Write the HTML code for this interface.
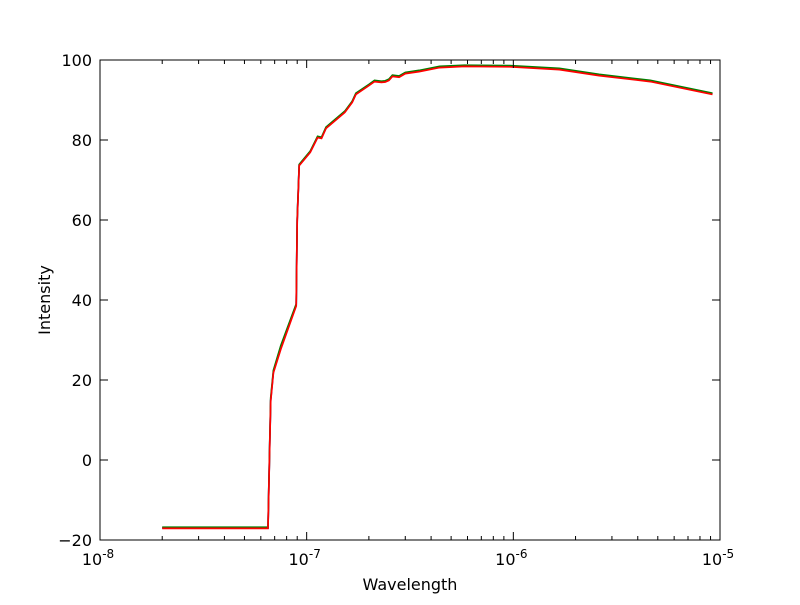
<!DOCTYPE html>
<html><head><meta charset="utf-8"><style>
body{margin:0;background:#fff}
svg text{font-family:"DejaVu Sans","Liberation Sans",sans-serif;fill:#000}
</style></head><body>
<svg id="chart" width="800" height="600">
<rect x="0" y="0" width="800" height="600" fill="#fff"/>
<g id="plot"></g>
<g id="axes"></g>
</svg>
<script>
const wavelengths=[2e-8,6.5e-8,6.6e-8,6.7e-8,6.9e-8,7.5e-8,8.9e-8,9.0e-8,9.2e-8,1.04e-7,1.13e-7,1.18e-7,1.24e-7,1.53e-7,1.66e-7,1.73e-7,2.0e-7,2.13e-7,2.3e-7,2.4e-7,2.5e-7,2.6e-7,2.8e-7,3.0e-7,3.5e-7,4.4e-7,5.8e-7,9.6e-7,1.67e-6,2.6e-6,4.6e-6,9.2e-6];
const blueValues=[-17,-17,0,15,22,28,38.7,60,73.7,77,80.7,80.5,83,87,89.5,91.5,93.7,94.7,94.5,94.6,95,96,95.8,96.7,97.2,98.2,98.5,98.4,97.7,96.2,94.7,91.5];
const greenValues=[-16.8,-16.8,0.3,15.5,22.4,28.6,39,60.3,73.9,77.2,80.9,80.7,83.2,87.2,89.7,91.7,93.9,94.9,94.7,94.8,95.2,96.2,96,96.9,97.4,98.4,98.7,98.6,97.9,96.4,94.9,91.7];
const redValues=[-17.1,-17.1,-0.3,14.7,21.8,27.7,38.5,59.7,73.6,76.9,80.6,80.4,82.9,86.9,89.4,91.4,93.6,94.6,94.4,94.5,94.9,95.9,95.7,96.6,97.1,98.1,98.4,98.3,97.6,96.1,94.6,91.4];
const yTicks=[-20,0,20,40,60,80,100];
const xDecades=[-8,-7,-6,-5];
const L=100,R=720,T=60,B=540;
const xs=w=>L+(Math.log10(w)+8)/3*(R-L);
const ys=v=>B-(v+20)/120*(B-T);
const NS="http://www.w3.org/2000/svg";
const plot=document.getElementById('plot'),axes=document.getElementById('axes');
function mk(tag,attrs,parent){const e=document.createElementNS(NS,tag);for(const k in attrs)e.setAttribute(k,attrs[k]);parent.appendChild(e);return e;}
const series=[["blue",blueValues,"#0000ff"],["green",greenValues,"#008000"],["red",redValues,"#ff0000"]];
series.forEach(([n,vals,c])=>{
  const p=mk('path',{d:vals.map((v,i)=>(i?'L':'M')+xs(wavelengths[i]).toFixed(1)+','+ys(v).toFixed(1)).join(''),fill:'none',stroke:c,'stroke-width':1.7},plot);
  
  
});
const frame=mk('rect',{x:L,y:T,width:R-L,height:B-T,fill:'none',stroke:'#000','stroke-width':1},axes);


yTicks.forEach(v=>{
  const y=ys(v);
  mk('line',{x1:L,x2:L+8,y1:y,y2:y,stroke:'#000'},axes);
  mk('line',{x1:R,x2:R-8,y1:y,y2:y,stroke:'#000'},axes);
  const t=mk('text',{x:L-8,y:y+6,'text-anchor':'end','font-size':16},axes);
  t.textContent=v<0?'\u2212'+(-v):v;
  
  
});
xDecades.forEach((d,i)=>{
  const x=xs(Math.pow(10,d));
  mk('line',{x1:x,x2:x,y1:B,y2:B-8,stroke:'#000'},axes);
  mk('line',{x1:x,x2:x,y1:T,y2:T+8,stroke:'#000'},axes);
  const t=mk('text',{x:x-2,y:B+25,'text-anchor':'middle','font-size':16},axes);
  t.innerHTML='10<tspan dy="-7" font-size="12">'+d+'</tspan>';
  
  
  if(i<xDecades.length-1){for(let m=2;m<=9;m++){const xm=xs(m*Math.pow(10,d));
    mk('line',{x1:xm,x2:xm,y1:B,y2:B-4,stroke:'#000'},axes);
    mk('line',{x1:xm,x2:xm,y1:T,y2:T+4,stroke:'#000'},axes);}}
});
const xt=mk('text',{x:410,y:590,'text-anchor':'middle','font-size':16},axes);
xt.textContent='Wavelength';


const yt=mk('text',{x:50,y:300,'text-anchor':'middle','font-size':16,transform:'rotate(-90 50 300)'},axes);
yt.textContent='Intensity';


</script>
</body></html>
